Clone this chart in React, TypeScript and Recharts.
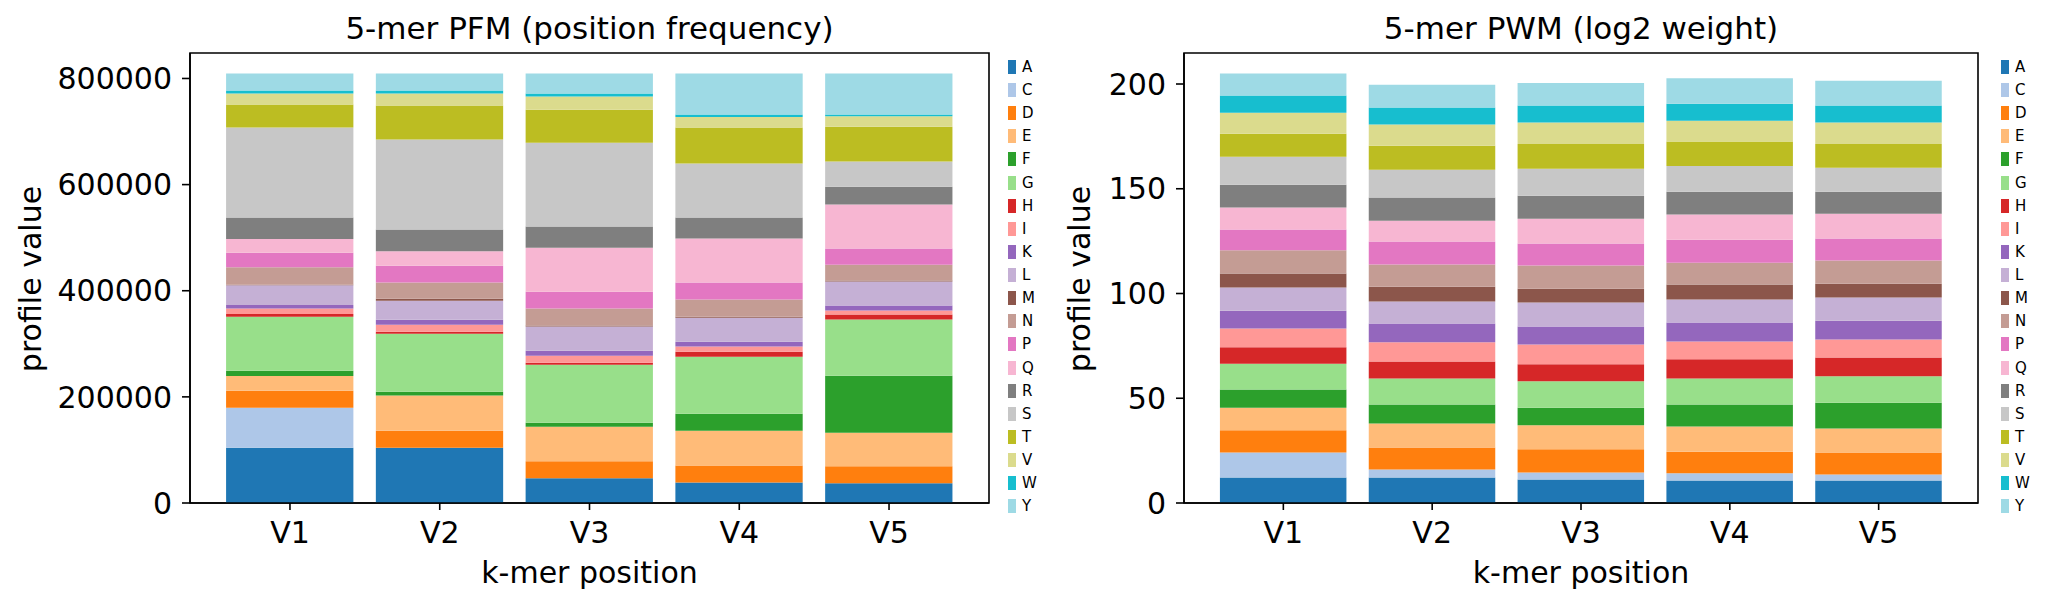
import { BarChart, Bar, XAxis, YAxis, ReferenceArea } from 'recharts';

const positions = ['V1', 'V2', 'V3', 'V4', 'V5'];
const residues = ['A', 'C', 'D', 'E', 'F', 'G', 'H', 'I', 'K', 'L', 'M', 'N', 'P', 'Q', 'R', 'S', 'T', 'V', 'W', 'Y'];
const residueColors = [
	'#1f77b4', '#aec7e8', '#ff7f0e', '#ffbb78', '#2ca02c', '#98df8a', '#d62728', '#ff9896', '#9467bd', '#c5b0d5',
	'#8c564b', '#c49c94', '#e377c2', '#f7b6d2', '#7f7f7f', '#c7c7c7', '#bcbd22', '#dbdb8d', '#17becf', '#9edae5',
];

// counts per residue (A..Y) at each k-mer position
const pfmV1 = [104300, 75400, 32000, 27700, 10000, 101800, 5000, 10100, 6900, 37100, 1200, 32700, 27600, 25800, 40200, 169700, 43300, 20800, 5600, 32000];
const pfmV2 = [104200, 0, 32100, 66300, 7200, 109300, 3800, 13200, 9400, 35800, 3800, 30200, 32000, 27000, 41100, 169600, 64000, 22600, 5800, 31800];
const pfmV3 = [46600, 0, 32000, 65300, 7500, 109300, 3800, 13200, 9400, 45300, 1900, 32000, 32000, 82800, 40100, 157900, 61900, 24800, 5800, 37600];
const pfmV4 = [38600, 0, 32000, 65700, 32000, 107500, 9400, 9500, 9400, 45200, 1900, 32100, 32000, 83300, 39300, 101900, 67700, 19700, 5100, 76900];
const pfmV5 = [37100, 0, 32000, 63400, 107400, 105800, 9400, 7500, 9400, 45200, 1900, 30100, 30500, 83000, 33400, 47400, 65500, 19600, 3700, 76900];

// log2 weights per residue (A..Y)
const pwmV1 = [12.2, 11.9, 10.6, 10.8, 8.7, 12.3, 7.8, 9.0, 8.5, 11.1, 6.6, 11.1, 9.9, 10.5, 10.9, 13.4, 10.9, 10.1, 8.2, 10.5];
const pwmV2 = [12.2, 3.8, 10.5, 11.5, 9.0, 12.4, 8.1, 9.2, 9.0, 10.5, 7.0, 10.7, 10.9, 9.9, 11.1, 13.3, 11.4, 10.2, 8.1, 10.8];
const pwmV3 = [11.2, 3.4, 11.0, 11.5, 8.4, 12.6, 8.1, 9.4, 8.6, 11.5, 6.6, 11.1, 10.5, 11.8, 11.0, 12.9, 11.8, 10.2, 8.1, 10.8];
const pwmV4 = [10.7, 3.5, 10.3, 12.0, 10.5, 12.4, 9.2, 8.5, 9.0, 11.0, 7.2, 10.4, 11.0, 12.0, 10.9, 12.3, 11.6, 10.0, 8.1, 12.1];
const pwmV5 = [10.7, 2.9, 10.5, 11.5, 12.3, 12.6, 9.0, 8.5, 9.0, 11.1, 6.6, 11.1, 10.5, 11.8, 10.5, 11.4, 11.4, 10.2, 8.1, 11.8];

const pfmTicks = [0, 200000, 400000, 600000, 800000];
const pwmTicks = [0, 50, 100, 150, 200];

const buildRows = (cols: number[][]) =>
	positions.map((pos, i) => {
		const row: Record<string, number | string> = { idx: i, pos };
		residues.forEach((r, j) => {
			row[r] = cols[i][j];
		});
		return row;
	});

const pfmRows = buildRows([pfmV1, pfmV2, pfmV3, pfmV4, pfmV5]);
const pwmRows = buildRows([pwmV1, pwmV2, pwmV3, pwmV4, pwmV5]);

const FONT = '"DejaVu Sans", sans-serif';
const X_MIN = -0.6675;
const X_MAX = 4.6675;

interface PanelProps {
	rows: Record<string, number | string>[];
	left: number;
	width: number;
	yAxisWidth: number;
	marginRight: number;
	yMax: number;
	yTicks: number[];
	barSize: number;
	title: string;
	yLabelX: number;
	legendX: number;
}

function StackPanel({ rows, left, width, yAxisWidth, marginRight, yMax, yTicks, barSize, title, yLabelX, legendX }: PanelProps) {
	const plotLeft = left + yAxisWidth;
	const plotRight = left + width - marginRight;
	const plotCenter = (plotLeft + plotRight) / 2;
	return (
		<>
			<div style={{ position: 'absolute', left }}>
				<BarChart width={width} height={606} data={rows} margin={{ top: 53, right: marginRight, bottom: 0, left: 0 }}>
					<XAxis
						type="number"
						dataKey="idx"
						domain={[X_MIN, X_MAX]}
						ticks={[0, 1, 2, 3, 4]}
						interval={0}
						allowDataOverflow
						tickFormatter={(v: number) => positions[v]}
						height={103}
						tickSize={7}
						tickMargin={12}
						tick={{ fontSize: 30, fill: '#000' }}
						axisLine={{ stroke: '#000', strokeWidth: 1.6 }}
						tickLine={{ stroke: '#000', strokeWidth: 1.6 }}
					/>
					<YAxis
						type="number"
						domain={[0, yMax]}
						ticks={yTicks}
						interval={0}
						allowDataOverflow
						width={yAxisWidth}
						tickSize={8}
						tickMargin={10}
						tick={{ fontSize: 30, fill: '#000' }}
						axisLine={{ stroke: '#000', strokeWidth: 1.6 }}
						tickLine={{ stroke: '#000', strokeWidth: 1.6 }}
					/>
					{residues.map((r, j) => (
						<Bar key={r} dataKey={r} stackId="s" fill={residueColors[j]} barSize={barSize} isAnimationActive={false} />
					))}
					<ReferenceArea x1={X_MIN} x2={X_MAX} y1={0} y2={yMax} fill="none" stroke="#000" strokeWidth={1.6} ifOverflow="visible" />
				</BarChart>
			</div>
			<div style={{ position: 'absolute', left: plotCenter - 400, width: 800, top: 13, fontSize: 31, lineHeight: '31px', textAlign: 'center' }}>
				{title}
			</div>
			<div style={{ position: 'absolute', left: plotCenter - 400, width: 800, top: 558, fontSize: 30, lineHeight: '30px', textAlign: 'center' }}>
				k-mer position
			</div>
			<div
				style={{
					position: 'absolute',
					left: yLabelX - 150,
					top: 279 - 15,
					width: 300,
					height: 30,
					fontSize: 30,
					lineHeight: '30px',
					textAlign: 'center',
					transform: 'rotate(-90deg)',
				}}
			>
				profile value
			</div>
			{residues.map((r, j) => (
				<div key={r} style={{ position: 'absolute', left: legendX, top: 60 + j * 23.12, height: 14, display: 'flex', alignItems: 'center' }}>
					<div style={{ width: 8, height: 14, background: residueColors[j] }} />
					<div style={{ marginLeft: 6, fontSize: 15, lineHeight: '14px' }}>{r}</div>
				</div>
			))}
		</>
	);
}

export default function App() {
	return (
		<div style={{ position: 'relative', width: 2046, height: 606, fontFamily: FONT, color: '#000', background: '#fff', overflow: 'hidden' }}>
			<style>{'body{margin:0}'}</style>
			<StackPanel
				rows={pfmRows}
				left={0}
				width={1000}
				yAxisWidth={190}
				marginRight={11}
				yMax={848000}
				yTicks={pfmTicks}
				barSize={127.3}
				title="5-mer PFM (position frequency)"
				yLabelX={31}
				legendX={1008}
			/>
			<StackPanel
				rows={pwmRows}
				left={1000}
				width={1000}
				yAxisWidth={184}
				marginRight={22}
				yMax={214.8}
				yTicks={pwmTicks}
				barSize={126.5}
				title="5-mer PWM (log2 weight)"
				yLabelX={1080}
				legendX={2001}
			/>
		</div>
	);
}
